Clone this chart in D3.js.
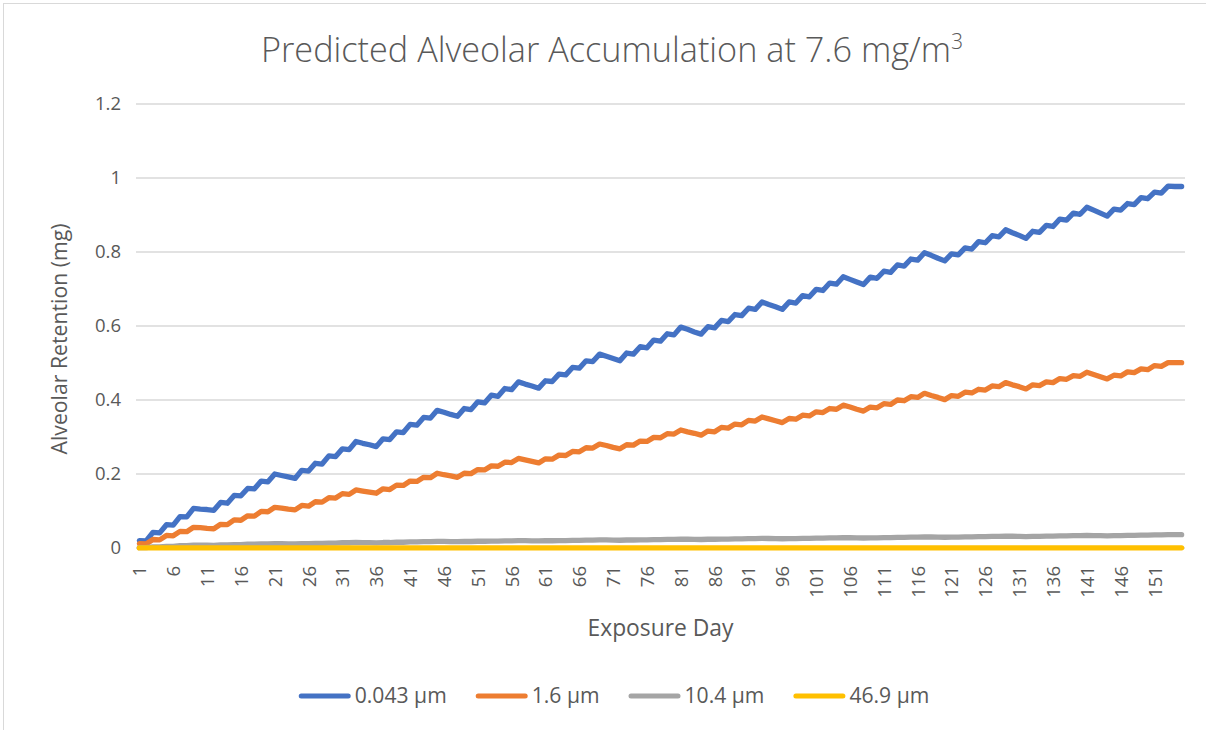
<!DOCTYPE html>
<html><head><meta charset="utf-8">
<script src="https://cdn.jsdelivr.net/npm/d3@7"></script>
<style>
body{margin:0;background:#fff}
svg{display:block}
text{font-family:"Open Sans","Noto Sans",sans-serif;fill:#595959}
</style>
</head><body>
<svg id="chart" width="1206" height="730"></svg>
<script>
// ---------- data ----------
const days = d3.range(1, 156); // Exposure Day 1..155
const seriesNames = ["0.043 µm", "1.6 µm", "10.4 µm", "46.9 µm"];
const seriesColors = ["#4472C4", "#ED7D31", "#A5A5A5", "#FFC000"];

const s0043 = [
0.020,0.019,0.042,0.041,0.063,0.062,0.085,0.084,0.107,0.105,0.104,0.102,
0.123,0.121,0.142,0.141,0.161,0.160,0.181,0.179,0.200,0.196,0.192,0.188,
0.210,0.208,0.229,0.227,0.249,0.247,0.268,0.266,0.288,0.283,0.279,0.274,
0.295,0.293,0.314,0.312,0.334,0.332,0.353,0.351,0.372,0.367,0.361,0.356,
0.377,0.374,0.395,0.392,0.413,0.410,0.431,0.428,0.449,0.443,0.438,0.432,
0.452,0.450,0.470,0.468,0.488,0.486,0.506,0.504,0.524,0.518,0.512,0.506,
0.527,0.524,0.544,0.541,0.562,0.559,0.579,0.576,0.597,0.591,0.584,0.578,
0.598,0.595,0.615,0.612,0.631,0.628,0.648,0.645,0.665,0.658,0.652,0.645,
0.665,0.662,0.682,0.679,0.699,0.696,0.716,0.713,0.733,0.726,0.719,0.712,
0.732,0.729,0.748,0.745,0.765,0.762,0.781,0.778,0.798,0.791,0.783,0.776,
0.795,0.792,0.811,0.808,0.828,0.825,0.844,0.841,0.860,0.852,0.845,0.837,
0.856,0.853,0.872,0.869,0.889,0.886,0.905,0.902,0.921,0.913,0.905,0.897,
0.916,0.913,0.931,0.928,0.947,0.944,0.962,0.959,0.978,0.977,0.977];

const s16 = [
0.012,0.011,0.023,0.022,0.034,0.033,0.045,0.044,0.056,0.055,0.053,0.052,
0.064,0.063,0.076,0.075,0.087,0.086,0.099,0.098,0.110,0.108,0.105,0.103,
0.115,0.113,0.125,0.124,0.136,0.135,0.147,0.145,0.157,0.154,0.151,0.148,
0.160,0.158,0.170,0.169,0.181,0.180,0.191,0.190,0.202,0.198,0.195,0.191,
0.202,0.201,0.212,0.211,0.222,0.221,0.232,0.231,0.242,0.238,0.234,0.230,
0.241,0.240,0.251,0.250,0.261,0.260,0.271,0.270,0.281,0.277,0.272,0.268,
0.279,0.278,0.289,0.288,0.299,0.298,0.309,0.308,0.319,0.314,0.310,0.305,
0.316,0.314,0.326,0.324,0.335,0.333,0.345,0.343,0.354,0.349,0.344,0.339,
0.350,0.348,0.359,0.357,0.368,0.366,0.377,0.375,0.386,0.381,0.375,0.370,
0.381,0.379,0.390,0.388,0.400,0.398,0.409,0.407,0.418,0.412,0.407,0.401,
0.412,0.410,0.421,0.419,0.429,0.427,0.438,0.436,0.447,0.441,0.436,0.430,
0.441,0.439,0.449,0.447,0.458,0.456,0.466,0.464,0.475,0.469,0.463,0.457,
0.467,0.465,0.476,0.474,0.484,0.482,0.493,0.491,0.501,0.501,0.501];

const s104 = [
0.0010,0.0010,0.0028,0.0028,0.0045,0.0045,0.0063,0.0063,0.0080,0.0078,0.0075,0.0073,
0.0082,0.0082,0.0092,0.0092,0.0101,0.0101,0.0111,0.0111,0.0120,0.0117,0.0113,0.0110,
0.0118,0.0118,0.0126,0.0126,0.0134,0.0134,0.0142,0.0142,0.0150,0.0147,0.0143,0.0140,
0.0148,0.0148,0.0156,0.0156,0.0164,0.0164,0.0172,0.0172,0.0180,0.0177,0.0173,0.0170,
0.0176,0.0176,0.0182,0.0182,0.0188,0.0188,0.0194,0.0194,0.0200,0.0197,0.0193,0.0190,
0.0196,0.0196,0.0202,0.0202,0.0208,0.0208,0.0214,0.0214,0.0220,0.0217,0.0213,0.0210,
0.0216,0.0216,0.0222,0.0222,0.0228,0.0228,0.0234,0.0234,0.0240,0.0237,0.0233,0.0230,
0.0236,0.0236,0.0242,0.0242,0.0248,0.0248,0.0254,0.0254,0.0260,0.0257,0.0253,0.0250,
0.0256,0.0256,0.0262,0.0262,0.0268,0.0268,0.0274,0.0274,0.0280,0.0277,0.0273,0.0270,
0.0276,0.0276,0.0282,0.0282,0.0288,0.0288,0.0294,0.0294,0.0300,0.0297,0.0293,0.0290,
0.0296,0.0296,0.0302,0.0302,0.0308,0.0308,0.0314,0.0314,0.0320,0.0317,0.0313,0.0310,
0.0316,0.0316,0.0322,0.0322,0.0328,0.0328,0.0334,0.0334,0.0340,0.0337,0.0333,0.0330,
0.0336,0.0336,0.0342,0.0342,0.0348,0.0348,0.0354,0.0354,0.0360,0.0360,0.0360];

const s469 = [
0.0001,0.0001,0.0001,0.0001,0.0001,0.0001,0.0001,0.0001,0.0001,0.0001,0.0001,0.0001,
0.0001,0.0001,0.0001,0.0001,0.0001,0.0001,0.0001,0.0001,0.0001,0.0001,0.0001,0.0001,
0.0001,0.0001,0.0002,0.0002,0.0002,0.0002,0.0002,0.0002,0.0002,0.0002,0.0002,0.0002,
0.0002,0.0002,0.0002,0.0002,0.0002,0.0002,0.0002,0.0002,0.0002,0.0002,0.0002,0.0002,
0.0002,0.0002,0.0002,0.0002,0.0002,0.0002,0.0002,0.0002,0.0002,0.0002,0.0002,0.0002,
0.0003,0.0003,0.0003,0.0003,0.0003,0.0003,0.0003,0.0003,0.0003,0.0003,0.0003,0.0003,
0.0003,0.0003,0.0003,0.0003,0.0003,0.0003,0.0003,0.0003,0.0003,0.0003,0.0003,0.0003,
0.0003,0.0003,0.0003,0.0003,0.0003,0.0003,0.0003,0.0003,0.0003,0.0003,0.0003,0.0003,
0.0004,0.0004,0.0004,0.0004,0.0004,0.0004,0.0004,0.0004,0.0004,0.0004,0.0004,0.0004,
0.0004,0.0004,0.0004,0.0004,0.0004,0.0004,0.0004,0.0004,0.0004,0.0004,0.0004,0.0004,
0.0004,0.0004,0.0004,0.0004,0.0004,0.0004,0.0004,0.0004,0.0004,0.0004,0.0004,0.0004,
0.0005,0.0005,0.0005,0.0005,0.0005,0.0005,0.0005,0.0005,0.0005,0.0005,0.0005,0.0005,
0.0005,0.0005,0.0005,0.0005,0.0005,0.0005,0.0005,0.0005,0.0005,0.0005,0.0005];

const seriesValues = [s0043, s16, s104, s469];
const yTickValues = [0, 0.2, 0.4, 0.6, 0.8, 1, 1.2];
const yTickLabels = ["0", "0.2", "0.4", "0.6", "0.8", "1", "1.2"];
const xTickValues = [1,6,11,16,21,26,31,36,41,46,51,56,61,66,71,76,81,86,91,96,101,106,111,116,121,126,131,136,141,146,151];
const titleText = "Predicted Alveolar Accumulation at 7.6 mg/m";
const titleSup = "3";
const xTitle = "Exposure Day";
const yTitle = "Alveolar Retention (mg)";

// ---------- layout ----------
const svg = d3.select("#chart");
const plot = {left: 136, right: 1185, top: 104, bottom: 548};

// chart border (cropped at right/bottom)
svg.append("rect").attr("x", 3.5).attr("y", 3.5).attr("width", 1230).attr("height", 760)
  .attr("fill", "#fff").attr("stroke", "#D9D9D9").attr("stroke-width", 1);

const x = d3.scalePoint().domain(days).range([plot.left, plot.right]).padding(0.5);
const y = d3.scaleLinear().domain([0, 1.2]).range([plot.bottom, plot.top]);

function fitText(sel, target) {
  const fs = parseFloat(sel.attr("font-size"));
  const w = sel.node().getComputedTextLength();
  sel.attr("font-size", (fs * target / w).toFixed(2));
}

// gridlines
svg.append("g").selectAll("line").data(yTickValues.filter(v => v > 0)).join("line")
  .attr("x1", plot.left).attr("x2", plot.right)
  .attr("y1", d => y(d)).attr("y2", d => y(d))
  .attr("stroke", "#D9D9D9").attr("stroke-width", 1.3);

// y axis labels
const yAxis = d3.axisLeft(y).tickValues(yTickValues)
  .tickFormat((d, i) => yTickLabels[i]).tickSize(0).tickPadding(15);
const gy = svg.append("g").attr("transform", `translate(${plot.left},0)`).call(yAxis);
gy.select(".domain").remove();
gy.selectAll("text").attr("font-size", 18.5).attr("fill", "#595959")
  .style("font-family", '"Open Sans",sans-serif');

// x axis
const xAxis = d3.axisBottom(x).tickValues(xTickValues).tickSize(0);
const gx = svg.append("g").attr("transform", `translate(0,${plot.bottom})`).call(xAxis);
gx.select(".domain").attr("stroke", "#D9D9D9").attr("stroke-width", 1.3)
  .attr("d", `M${plot.left},0H${plot.right}`);
gx.selectAll("text").attr("font-size", 18.5).attr("fill", "#595959")
  .style("font-family", '"Open Sans",sans-serif')
  .attr("transform", "rotate(-90)").attr("x", -18).attr("y", 0).attr("dy", "0.35em")
  .style("text-anchor", "end");

// lines
const line = d3.line().x((d, i) => x(days[i])).y(d => y(d));
svg.append("g").selectAll("path").data(seriesValues).join("path")
  .attr("d", d => line(d))
  .attr("fill", "none")
  .attr("stroke", (d, i) => seriesColors[i])
  .attr("stroke-width", 5.3)
  .attr("stroke-linejoin", "round").attr("stroke-linecap", "round");

// title
const title = svg.append("text").attr("x", 261).attr("y", 62).attr("font-size", 30)
  .attr("font-weight", 300).attr("fill", "#595959").text(titleText);
fitText(title, 690);
const tfs = parseFloat(title.attr("font-size"));
title.append("tspan").attr("font-size", (tfs * 0.62).toFixed(1)).attr("dy", -tfs * 0.38).text(titleSup);

// axis titles
const xt = svg.append("text").attr("x", (plot.left + plot.right) / 2).attr("y", 636)
  .attr("text-anchor", "middle").attr("font-size", 20).text(xTitle);
fitText(xt, 146);
const yt = svg.append("text").attr("transform", "translate(67,339) rotate(-90)")
  .attr("text-anchor", "middle").attr("font-size", 20).text(yTitle);
fitText(yt, 231);

// legend
const lg = svg.append("g");
const items = lg.selectAll("g").data(seriesNames).join("g");
items.append("line").attr("x1", 2.5).attr("x2", 49.5).attr("y1", 0).attr("y2", 0)
  .attr("stroke", (d, i) => seriesColors[i]).attr("stroke-width", 5).attr("stroke-linecap", "round");
const ltexts = items.append("text").attr("x", 56).attr("y", 0).attr("dy", "0.35em")
  .attr("font-size", 20).text(d => d);
const probe = ltexts.filter((d, i) => i === 0);
fitText(probe, 92);
const lfs = probe.attr("font-size");
ltexts.attr("font-size", lfs);
let cx = 0;
const pos = [];
ltexts.each(function () { pos.push(cx); cx += 56 + this.getComputedTextLength() + 29; });
const totalW = cx - 29;
const startX = 614 - totalW / 2;
items.attr("transform", (d, i) => `translate(${startX + pos[i]},696)`);
</script>
</body></html>
